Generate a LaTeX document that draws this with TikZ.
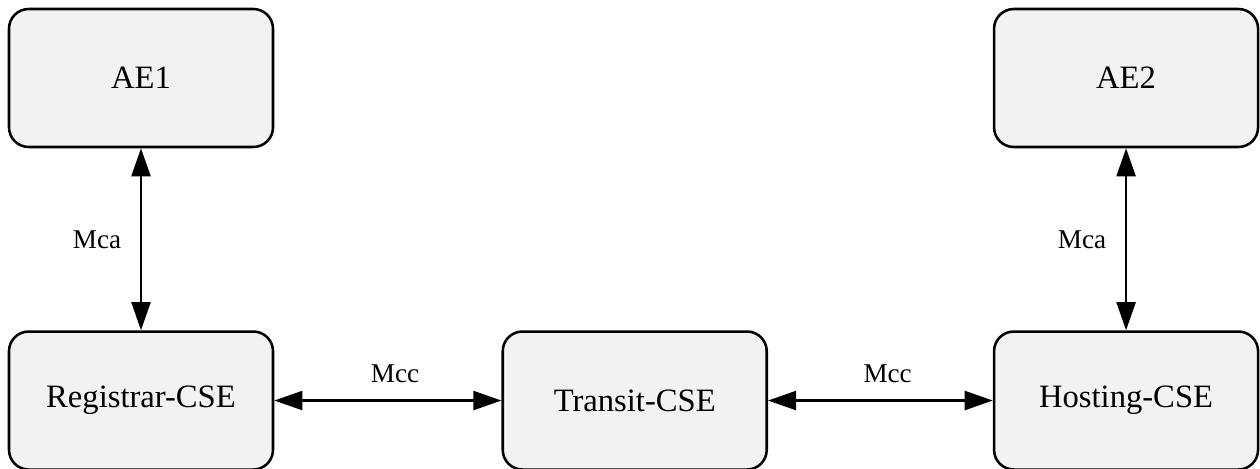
\documentclass[tikz,border=0pt]{standalone}
\usepackage{fontspec}
\setmainfont{Liberation Serif}
\usetikzlibrary{positioning,arrows.meta}
\definecolor{boxgray}{HTML}{F2F2F2}
\begin{document}
\begin{tikzpicture}[
    node distance=4.55cm and 5.68cm,
    entity/.style={draw, line width=1.8pt, fill=boxgray, rounded corners=14pt,
        minimum width=6.6cm, minimum height=3.45cm, font=\fontsize{23.2}{28}\selectfont},
    link/.style={line width=1.7pt, {Triangle[length=20pt,width=13.5pt]}-{Triangle[length=20pt,width=13.5pt]}},
    iface/.style={font=\fontsize{19.3}{23}\selectfont}
]
    \useasboundingbox (0,0) rectangle (31.5,11.725);
    % Entities
    \node[entity] (ae1) at (3.525,9.775) {AE1};
    \node[entity, below=of ae1] (registrar) {Registrar-CSE};
    \node[entity, right=of registrar] (transit) {Transit-CSE};
    \node[entity, right=5.62cm of transit] (hosting) {Hosting-CSE};
    \node[entity, above=of hosting] (ae2) {AE2};

    % Reference points
    \draw[link] (ae1) -- node[iface, left=0.35cm] {Mca} (registrar);
    \draw[link] (registrar) -- node[iface, above=0.3cm, xshift=0.18cm] {Mcc} (transit);
    \draw[link] (transit) -- node[iface, above=0.3cm, xshift=0.18cm] {Mcc} (hosting);
    \draw[link] (ae2) -- node[iface, left=0.35cm] {Mca} (hosting);
\end{tikzpicture}
\end{document}
